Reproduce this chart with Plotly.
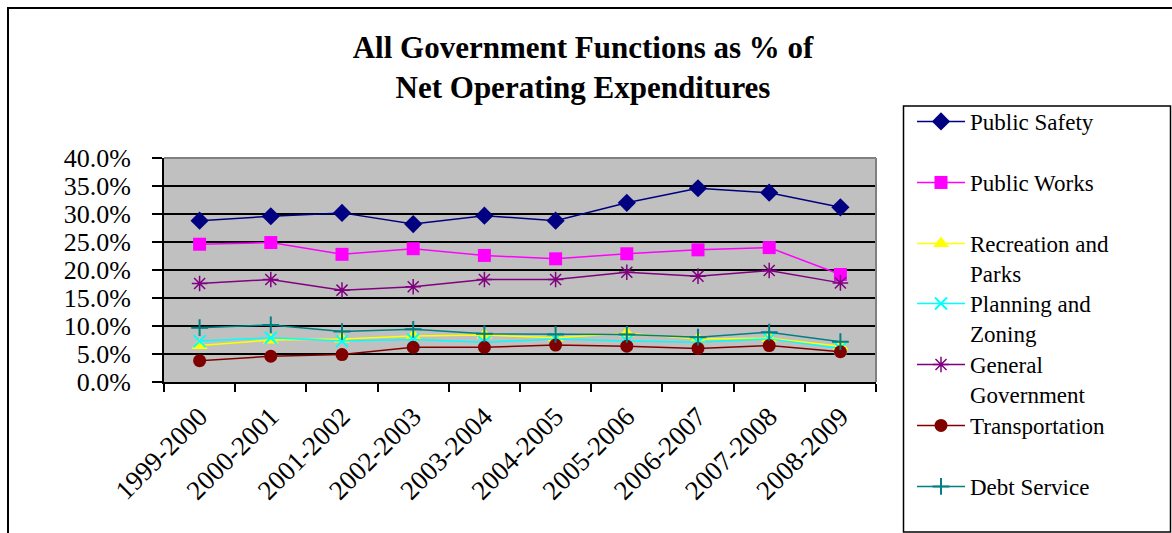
import plotly.graph_objects as go

years = ["1999-2000", "2000-2001", "2001-2002", "2002-2003", "2003-2004",
         "2004-2005", "2005-2006", "2006-2007", "2007-2008", "2008-2009"]

public_safety = [28.8, 29.6, 30.2, 28.2, 29.7, 28.8, 32.0, 34.6, 33.8, 31.2]
public_works = [24.6, 24.9, 22.8, 23.8, 22.6, 22.0, 22.9, 23.6, 24.0, 19.2]
recreation_parks = [6.5, 7.5, 7.7, 8.2, 8.4, 7.9, 8.7, 7.7, 7.8, 6.4]
planning_zoning = [7.3, 7.9, 7.3, 7.6, 7.1, 7.7, 7.3, 7.1, 7.7, 6.0]
general_government = [17.6, 18.3, 16.4, 17.0, 18.3, 18.3, 19.6, 18.9, 19.9, 17.7]
transportation = [3.8, 4.6, 4.9, 6.2, 6.2, 6.6, 6.4, 6.0, 6.5, 5.4]
debt_service = [9.7, 10.2, 9.0, 9.4, 8.6, 8.5, 8.5, 8.0, 8.9, 7.2]

series = [
    ("Public Safety", public_safety, "#000080", "diamond", 14, 0),
    ("Public Works", public_works, "#FF00FF", "square", 13, 0),
    ("Recreation and<br>Parks", recreation_parks, "#FFFF00", "triangle-up", 14, 0),
    ("Planning and<br>Zoning", planning_zoning, "#00FFFF", "x-thin-open", 12, 2),
    ("General<br>Government", general_government, "#800080", "asterisk-open", 13, 1.5),
    ("Transportation", transportation, "#800000", "circle", 13, 0),
    ("Debt Service", debt_service, "#008080", "cross-thin-open", 12, 2),
]

FONT = "Liberation Serif"

# geometry helpers in paper coordinates (plot area 164..876 x, 158..382 y)
def px(xp):
    return (xp - 164) / 712.0

def py(yp):
    return (382 - yp) / 224.0

# legend symbol centres (pixels from top) for each entry
legend_centres = [123, 184, 245, 305, 366, 427, 488]

fig = go.Figure()
legends = {}
for i, (name, vals, color, sym, size, lw) in enumerate(series):
    key = "legend" if i == 0 else f"legend{i + 1}"
    marker = dict(symbol=sym, size=size, color=color)
    if lw:
        marker["line"] = dict(color=color, width=lw)
    fig.add_trace(go.Scatter(
        x=years, y=vals, name=name, mode="lines+markers",
        line=dict(color=color, width=1.5), marker=marker, legend=key,
    ))
    legends[key] = dict(
        x=px(912), xanchor="left", y=py(legend_centres[i] - 23), yanchor="top",
        font=dict(family=FONT, size=23, color="black"),
        bgcolor="rgba(0,0,0,0)", borderwidth=0,
        valign="top", itemwidth=48,
        itemclick=False, itemdoubleclick=False,
    )

shapes = [
    # outer chart border
    dict(type="rect", xref="paper", yref="paper", x0=px(8), x1=px(1185), y0=py(545), y1=py(8),
         line=dict(color="black", width=2), layer="below"),
    # legend box
    dict(type="rect", xref="paper", yref="paper", x0=px(903.5), x1=px(1170.5), y0=py(532), y1=py(106),
         line=dict(color="black", width=1.5), layer="below"),
    # plot frame top and right (gray)
    dict(type="line", xref="paper", yref="paper", x0=0, x1=1, y0=1, y1=1,
         line=dict(color="#808080", width=2), layer="above"),
    dict(type="line", xref="paper", yref="paper", x0=1, x1=1, y0=0, y1=1,
         line=dict(color="#808080", width=2), layer="above"),
]

fig.update_layout(
    width=1172, height=533,
    margin=dict(l=164, r=296, t=158, b=151),
    paper_bgcolor="white",
    plot_bgcolor="#C0C0C0",
    font=dict(family=FONT, color="black", size=22),
    title=dict(
        text="<b>All Government Functions as % of<br>Net Operating Expenditures</b>",
        x=583 / 1172, xanchor="center", xref="container",
        y=1 - 58 / 533, yanchor="top", yref="container",
        font=dict(family=FONT, size=31, color="black"),
    ),
    showlegend=True,
    shapes=shapes,
    xaxis=dict(
        type="category", tickangle=-45, tickson="boundaries",
        ticks="outside", ticklen=8, tickwidth=1.5, tickcolor="black",
        showline=True, linecolor="black", linewidth=2,
        showgrid=False, tickfont=dict(family=FONT, size=27),
        ticklabelstandoff=6,
        range=[-0.5, 9.5], fixedrange=True,
    ),
    yaxis=dict(
        range=[0, 40], dtick=5, tick0=0,
        tickformat=".1f", ticksuffix="%",
        ticks="outside", ticklen=10, tickwidth=1.5, tickcolor="black",
        showline=True, linecolor="black", linewidth=2,
        showgrid=True, gridcolor="black", gridwidth=1.5,
        zeroline=False, tickfont=dict(family=FONT, size=26),
        ticklabelstandoff=16,
        fixedrange=True,
    ),
)
fig.update_layout(**legends)

fig.write_html("out.html")
